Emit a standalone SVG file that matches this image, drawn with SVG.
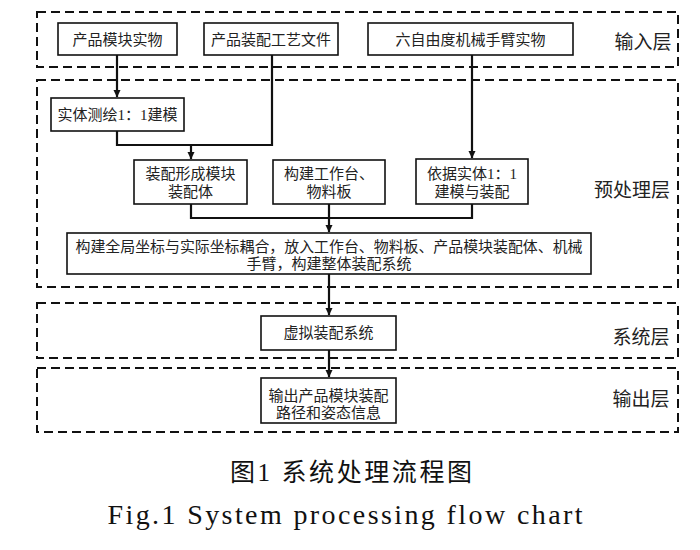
<svg xmlns="http://www.w3.org/2000/svg" width="700" height="550" viewBox="0 0 700 550">
<style>
.layer{fill:none;stroke:#111;stroke-width:2;stroke-dasharray:9,5}
.box{fill:#fff;stroke:#111;stroke-width:1.6}
.t{font-family:"Liberation Serif","Noto Sans CJK SC",serif;font-size:15px;fill:#222;text-anchor:middle;dominant-baseline:central}
.lbl{font-family:"Liberation Serif","Noto Sans CJK SC",serif;font-size:19px;fill:#222;text-anchor:middle;dominant-baseline:central}
.c{fill:none;stroke:#111;stroke-width:2.2}
.cap{font-family:"Liberation Serif","Noto Sans CJK SC",serif;fill:#111;text-anchor:middle}
</style>
<defs>
<marker id="arr" markerWidth="8" markerHeight="8" refX="7" refY="4" orient="auto" markerUnits="userSpaceOnUse">
<path d="M0,0.5 L7.5,4 L0,7.5 Z" fill="#111"/>
</marker>
</defs>
<rect width="700" height="550" fill="#fff"/>
<g id="layers">
<rect class="layer" x="37" y="12" width="641" height="55"/>
<rect class="layer" x="37" y="80" width="641" height="207"/>
<rect class="layer" x="37" y="303" width="641" height="55"/>
<rect class="layer" x="37" y="368" width="641" height="64"/>
<text class="lbl" x="643" y="42">输入层</text>
<text class="lbl" x="632" y="190">预处理层</text>
<text class="lbl" x="641" y="337">系统层</text>
<text class="lbl" x="641" y="399">输出层</text>
</g>
<g id="connectors">
<path class="c" d="M117,55 V97" marker-end="url(#arr)"/>
<path class="c" d="M272,55 V145 H117 V131"/>
<path class="c" d="M191,145 V159" marker-end="url(#arr)"/>
<path class="c" d="M472,55 V158" marker-end="url(#arr)"/>
<path class="c" d="M191,204 V218 H472 V204"/>
<path class="c" d="M329,204 V232" marker-end="url(#arr)"/>
<path class="c" d="M329,274 V315" marker-end="url(#arr)"/>
<path class="c" d="M329,350 V377" marker-end="url(#arr)"/>
</g>
<g id="n1"><rect class="box" x="58" y="23" width="119" height="32"/><text class="t" x="117.5" y="40">产品模块实物</text></g>
<g id="n2"><rect class="box" x="204" y="23" width="134" height="32"/><text class="t" x="271" y="40">产品装配工艺文件</text></g>
<g id="n3"><rect class="box" x="368" y="23" width="205" height="32"/><text class="t" x="470.5" y="40">六自由度机械手臂实物</text></g>
<g id="n4"><rect class="box" x="51" y="98" width="133" height="33"/><text class="t" x="117.5" y="115">实体测绘1：1建模</text></g>
<g id="n5"><rect class="box" x="134" y="160" width="113" height="44"/><text class="t" x="190.5" y="174">装配形成模块</text><text class="t" x="190.5" y="192">装配体</text></g>
<g id="n6"><rect class="box" x="273" y="160" width="112" height="44"/><text class="t" x="329" y="174">构建工作台、</text><text class="t" x="329" y="192">物料板</text></g>
<g id="n7"><rect class="box" x="416" y="159" width="112" height="45"/><text class="t" x="472" y="174">依据实体1：1</text><text class="t" x="472" y="192">建模与装配</text></g>
<g id="n8"><rect class="box" x="67" y="233" width="524" height="41"/><text class="t" x="329" y="247" textLength="507" lengthAdjust="spacingAndGlyphs">构建全局坐标与实际坐标耦合，放入工作台、物料板、产品模块装配体、机械</text><text class="t" x="329" y="264">手臂，构建整体装配系统</text></g>
<g id="n9"><rect class="box" x="261" y="316" width="135" height="34"/><text class="t" x="328.5" y="333">虚拟装配系统</text></g>
<g id="n10"><rect class="box" x="261" y="378" width="135" height="45"/><text class="t" x="328.5" y="396">输出产品模块装配</text><text class="t" x="328.5" y="413">路径和姿态信息</text></g>
<g id="caption">
<text class="cap" x="351" y="481" font-size="25" textLength="242" lengthAdjust="spacing">图1 系统处理流程图</text>
<text class="cap" x="345" y="524" font-size="28" textLength="475" lengthAdjust="spacing">Fig.1 System processing flow chart</text>
</g>
</svg>
